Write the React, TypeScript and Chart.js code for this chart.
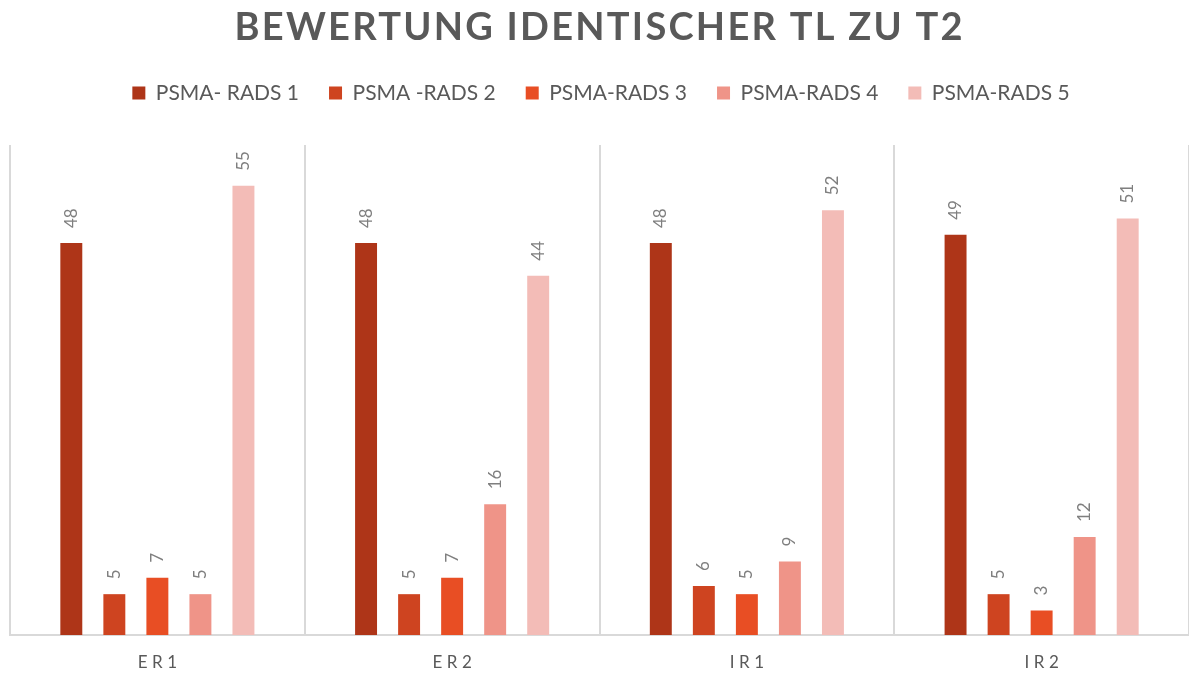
import React, { useEffect, useRef } from "react";
import { Chart, registerables } from "chart.js";

Chart.register(...registerables);

const chartTitle = "BEWERTUNG IDENTISCHER TL ZU T2";
const categories = ["ER1", "ER2", "IR1", "IR2"];
const seriesNames = ["PSMA- RADS 1", "PSMA -RADS 2", "PSMA-RADS 3", "PSMA-RADS 4", "PSMA-RADS 5"];
const rads1 = [48, 48, 48, 49];
const rads2 = [5, 5, 6, 5];
const rads3 = [7, 7, 5, 3];
const rads4 = [5, 16, 9, 12];
const rads5 = [55, 44, 52, 51];
const seriesColors = ["#AE3518", "#CE4420", "#E84E24", "#EF9488", "#F3BCB7"];
const yMax = 60;

const titlePlugin = {
  id: "customTitle",
  afterDraw(chart: any) {
    const ctx = chart.ctx;
    ctx.save();
    ctx.font = "bold 38px Lato";
    ctx.fillStyle = "#595959";
    ctx.textBaseline = "middle";
    ctx.textAlign = "left";
    const target = 728;
    const natural = ctx.measureText(chartTitle).width;
    const spacing = Math.max(0, (target - natural) / (chartTitle.length - 1));
    (ctx as any).letterSpacing = spacing + "px";
    const cx = chart.width / 2 + 4;
    ctx.fillText(chartTitle, cx - target / 2, 28);
    ctx.restore();
  },
};

const legendSpacer = {
  id: "legendSpacer",
  beforeInit(chart: any) {
    const origFit = chart.legend.fit;
    chart.legend.fit = function () {
      origFit.bind(chart.legend)();
      this.height += 31.5;
    };
  },
};

const valueLabels = {
  id: "valueLabels",
  afterDatasetsDraw(chart: any) {
    const ctx = chart.ctx;
    ctx.save();
    ctx.font = "17px Lato";
    ctx.fillStyle = "#7F7F7F";
    ctx.textAlign = "left";
    ctx.textBaseline = "middle";
    chart.data.datasets.forEach((ds: any, di: number) => {
      const meta = chart.getDatasetMeta(di);
      meta.data.forEach((el: any, i: number) => {
        ctx.save();
        ctx.translate(el.x, el.y - 15);
        ctx.rotate(-Math.PI / 2);
        ctx.fillText(String(ds.data[i]), 0, 0);
        ctx.restore();
      });
    });
    ctx.restore();
  },
};

const categoryLabels = {
  id: "categoryLabels",
  afterDraw(chart: any) {
    const ctx = chart.ctx;
    const xs = chart.scales.x;
    ctx.save();
    ctx.font = "17px Lato";
    ctx.fillStyle = "#595959";
    ctx.textAlign = "left";
    ctx.textBaseline = "middle";
    const sp = 4.5;
    (ctx as any).letterSpacing = sp + "px";
    categories.forEach((c, i) => {
      const x = xs.getPixelForValue(i);
      const w = ctx.measureText(c).width - sp;
      ctx.fillText(c, x - w / 2, 663);
    });
    ctx.restore();
  },
};

export default function App() {
  const ref = useRef<HTMLCanvasElement | null>(null);
  useEffect(() => {
    if (!ref.current) return;
    Chart.defaults.font.family = "Lato";
    const values = [rads1, rads2, rads3, rads4, rads5];
    const chart = new Chart(ref.current, {
      type: "bar",
      data: {
        labels: categories,
        datasets: seriesNames.map((name, i) => ({
          label: name,
          data: values[i],
          backgroundColor: seriesColors[i],
          borderWidth: 0,
          categoryPercentage: 0.73,
          barPercentage: 0.51,
        })),
      },
      options: {
        animation: false,
        responsive: true,
        maintainAspectRatio: false,
        layout: { padding: { top: 52.5, left: 10, right: -3, bottom: 40 } },
        plugins: {
          title: { display: false },
          tooltip: { enabled: false },
          legend: {
            display: true,
            position: "top",
            labels: {
              font: { size: 21, family: "Lato" },
              color: "#595959",
              boxWidth: 13,
              boxHeight: 13,
              padding: 30,
            },
          },
        },
        scales: {
          x: {
            display: true,
            grid: { offset: true, color: "#D9D9D9", lineWidth: 2, drawTicks: false },
            border: { display: true, color: "#D9D9D9", width: 2 },
            ticks: { display: false },
          },
          y: { display: false, min: 0, max: yMax },
        },
      },
      plugins: [titlePlugin, legendSpacer, valueLabels, categoryLabels],
    });
    return () => chart.destroy();
  }, []);
  return (
    <div style={{ position: "absolute", left: 0, top: 0, width: 1189, height: 675 }}>
      <canvas ref={ref} />
    </div>
  );
}
